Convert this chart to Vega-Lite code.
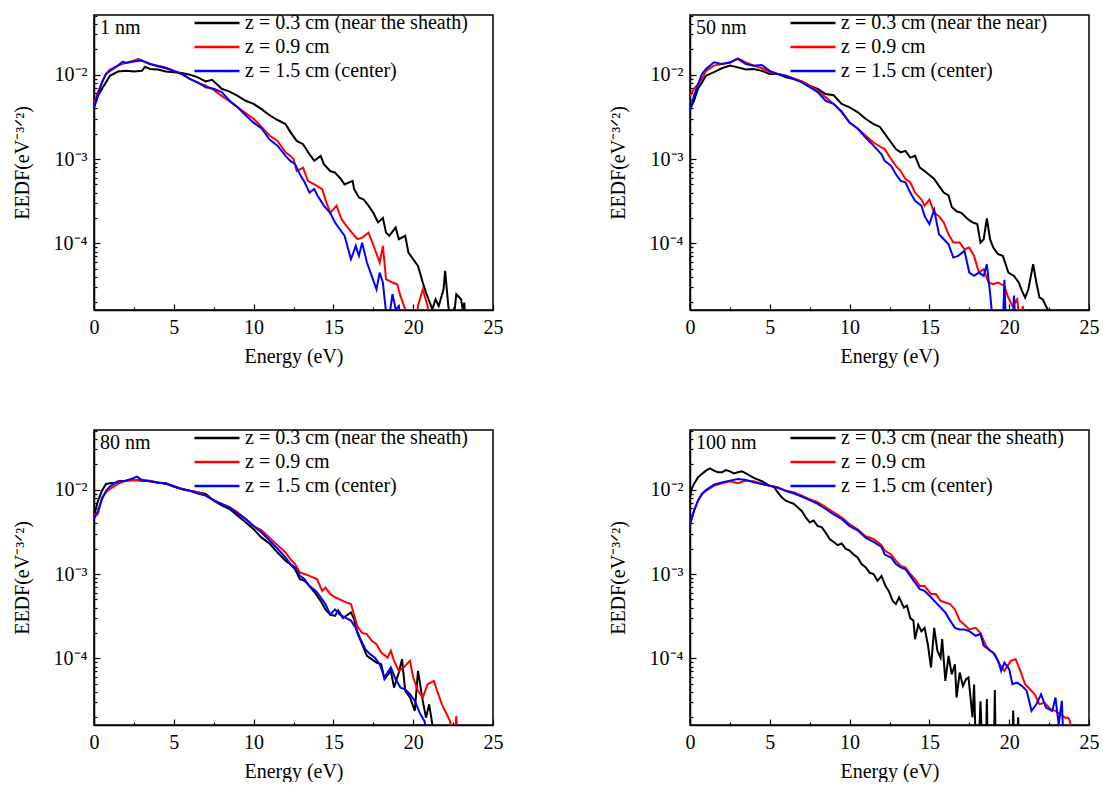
{
  "$schema": "https://vega.github.io/schema/vega-lite/v6.json",
  "background": "white",
  "padding": {"left": 11, "top": 4, "right": 5, "bottom": 0},
  "columns": 2,
  "bounds": "flush",
  "spacing": {"row": 120, "column": 197},
  "resolve": {"scale": {"color": "independent"}, "legend": {"color": "independent"}},
  "config": {
    "font": "Liberation Serif",
    "view": {"stroke": "black", "strokeWidth": 1.5},
    "axis": {"grid": false, "domainColor": "black", "domainWidth": 1.5, "tickColor": "black", "tickWidth": 1.2, "labelColor": "black", "titleColor": "black", "labelFont": "Liberation Serif", "titleFont": "Liberation Serif", "labelFontSize": 20, "titleFontSize": 20, "titleFontWeight": "normal", "labelOverlap": false},
    "axisX": {"labelFlush": false, "labelPadding": 13, "titlePadding": 6},
    "axisY": {"labelPadding": 13, "titlePadding": 21},
    "title": {"font": "Liberation Serif", "fontSize": 20, "fontWeight": "normal", "color": "black", "anchor": "start", "frame": "group", "offset": 0, "baseline": "alphabetic", "dx": 6, "dy": 36},
    "legend": {"orient": "none", "legendX": 99, "legendY": -4, "symbolType": "stroke", "symbolSize": 2025, "symbolStrokeWidth": 2.5, "labelFont": "Liberation Serif", "labelFontSize": 20, "labelColor": "black", "labelLimit": 500, "padding": 0, "rowPadding": 0, "clipHeight": 24, "labelOffset": 4}
  },
  "datasets": {
    "p1": [
      {"z":"0.3","e":0,"v":0.0041},{"z":"0.3","e":0.25,"v":0.0056},{"z":"0.3","e":0.5,"v":0.0068},{"z":"0.3","e":0.75,"v":0.0081},{"z":"0.3","e":1,"v":0.0097},{"z":"0.3","e":1.5,"v":0.0109},{"z":"0.3","e":2,"v":0.0111},{"z":"0.3","e":2.5,"v":0.0109},{"z":"0.3","e":3,"v":0.0111},{"z":"0.3","e":3.2,"v":0.0124},{"z":"0.3","e":3.5,"v":0.0117},{"z":"0.3","e":4,"v":0.0115},{"z":"0.3","e":4.5,"v":0.0109},{"z":"0.3","e":5,"v":0.0107},{"z":"0.3","e":5.5,"v":0.0105},{"z":"0.3","e":6,"v":0.0100},{"z":"0.3","e":6.5,"v":0.0093},{"z":"0.3","e":7,"v":0.0083},{"z":"0.3","e":7.4,"v":0.0087},{"z":"0.3","e":7.7,"v":0.0077},{"z":"0.3","e":8,"v":0.0068},{"z":"0.3","e":8.5,"v":0.0063},{"z":"0.3","e":9,"v":0.0056},{"z":"0.3","e":9.5,"v":0.0049},{"z":"0.3","e":10,"v":0.0045},{"z":"0.3","e":10.5,"v":0.0039},{"z":"0.3","e":11,"v":0.0033},{"z":"0.3","e":11.5,"v":0.0029},{"z":"0.3","e":12,"v":0.0026},{"z":"0.3","e":12.3,"v":0.0021},{"z":"0.3","e":12.7,"v":0.00164},{"z":"0.3","e":13.1,"v":0.0015},{"z":"0.3","e":13.5,"v":0.00114},{"z":"0.3","e":13.8,"v":0.00095},{"z":"0.3","e":14.2,"v":0.00109},{"z":"0.3","e":14.4,"v":0.00087},{"z":"0.3","e":14.8,"v":0.00072},{"z":"0.3","e":15.1,"v":0.00069},{"z":"0.3","e":15.4,"v":0.0006},{"z":"0.3","e":15.7,"v":0.0005},{"z":"0.3","e":16.2,"v":0.00055},{"z":"0.3","e":16.3,"v":0.00044},{"z":"0.3","e":16.6,"v":0.00035},{"z":"0.3","e":16.9,"v":0.00033},{"z":"0.3","e":17.2,"v":0.00028},{"z":"0.3","e":17.5,"v":0.00023},{"z":"0.3","e":17.8,"v":0.000177},{"z":"0.3","e":18.1,"v":0.0002},{"z":"0.3","e":18.3,"v":0.000134},{"z":"0.3","e":18.5,"v":0.000123},{"z":"0.3","e":18.9,"v":0.000154},{"z":"0.3","e":19.1,"v":0.000112},{"z":"0.3","e":19.5,"v":0.000123},{"z":"0.3","e":19.7,"v":0.0000778},{"z":"0.3","e":20,"v":0.0000648},{"z":"0.3","e":20.3,"v":0.000054},{"z":"0.3","e":20.6,"v":0.0000343},{"z":"0.3","e":20.8,"v":0.0000261},{"z":"0.3","e":21.2,"v":0.0000165},{"z":"0.3","e":21.4,"v":0.0000217},{"z":"0.3","e":21.6,"v":0.0000181},{"z":"0.3","e":21.9,"v":0.0000285},{"z":"0.3","e":22,"v":0.0000471},{"z":"0.3","e":22.2,"v":0.0000181},{"z":"0.3","e":22.4,"v":0.00001},{"z":"0.3","e":22.6,"v":0.0000165},{"z":"0.3","e":22.7,"v":0.0000249},{"z":"0.3","e":23,"v":0.0000217},{"z":"0.3","e":23.1,"v":0.0000165},{"z":"0.3","e":23.2,"v":0.0000198},{"z":"0.3","e":23.3,"v":0.00001},
      {"z":"0.9","e":0,"v":0.0045},{"z":"0.9","e":0.25,"v":0.0062},{"z":"0.9","e":0.5,"v":0.0081},{"z":"0.9","e":0.75,"v":0.0102},{"z":"0.9","e":1,"v":0.0115},{"z":"0.9","e":1.5,"v":0.0128},{"z":"0.9","e":2,"v":0.0138},{"z":"0.9","e":2.5,"v":0.0147},{"z":"0.9","e":2.8,"v":0.0154},{"z":"0.9","e":3,"v":0.0147},{"z":"0.9","e":3.5,"v":0.0134},{"z":"0.9","e":4,"v":0.0128},{"z":"0.9","e":4.5,"v":0.0122},{"z":"0.9","e":5,"v":0.0111},{"z":"0.9","e":5.5,"v":0.0102},{"z":"0.9","e":6,"v":0.0089},{"z":"0.9","e":6.5,"v":0.008},{"z":"0.9","e":7,"v":0.0074},{"z":"0.9","e":7.5,"v":0.0066},{"z":"0.9","e":8,"v":0.0056},{"z":"0.9","e":8.5,"v":0.0048},{"z":"0.9","e":9,"v":0.0041},{"z":"0.9","e":9.5,"v":0.0035},{"z":"0.9","e":10,"v":0.003},{"z":"0.9","e":10.5,"v":0.0024},{"z":"0.9","e":11,"v":0.0019},{"z":"0.9","e":11.5,"v":0.00164},{"z":"0.9","e":12,"v":0.0012},{"z":"0.9","e":12.3,"v":0.00109},{"z":"0.9","e":12.5,"v":0.001},{"z":"0.9","e":12.7,"v":0.00072},{"z":"0.9","e":13.1,"v":0.00079},{"z":"0.9","e":13.4,"v":0.00055},{"z":"0.9","e":13.8,"v":0.0005},{"z":"0.9","e":14.3,"v":0.00044},{"z":"0.9","e":14.5,"v":0.00033},{"z":"0.9","e":14.8,"v":0.00023},{"z":"0.9","e":15.2,"v":0.00028},{"z":"0.9","e":15.5,"v":0.000194},{"z":"0.9","e":15.9,"v":0.000154},{"z":"0.9","e":16.5,"v":0.000112},{"z":"0.9","e":16.8,"v":0.000117},{"z":"0.9","e":17.2,"v":0.000134},{"z":"0.9","e":17.6,"v":0.0000851},{"z":"0.9","e":17.9,"v":0.0000592},{"z":"0.9","e":18.1,"v":0.0000933},{"z":"0.9","e":18.3,"v":0.0000375},{"z":"0.9","e":18.7,"v":0.0000343},{"z":"0.9","e":19,"v":0.0000327},{"z":"0.9","e":19.2,"v":0.0000238},{"z":"0.9","e":19.5,"v":0.0000165},{"z":"0.9","e":19.6,"v":0.00001},{"z":"0.9","e":20.1,"v":0.00001},{"z":"0.9","e":20.3,"v":0.0000181},{"z":"0.9","e":20.6,"v":0.0000285},{"z":"0.9","e":20.9,"v":0.0000181},{"z":"0.9","e":21.1,"v":0.00001},
      {"z":"1.5","e":0,"v":0.0041},{"z":"1.5","e":0.25,"v":0.0059},{"z":"1.5","e":0.5,"v":0.0081},{"z":"1.5","e":0.75,"v":0.0102},{"z":"1.5","e":1,"v":0.0111},{"z":"1.5","e":1.5,"v":0.0128},{"z":"1.5","e":1.8,"v":0.0143},{"z":"1.5","e":2,"v":0.0138},{"z":"1.5","e":2.5,"v":0.0143},{"z":"1.5","e":3,"v":0.0147},{"z":"1.5","e":3.5,"v":0.0134},{"z":"1.5","e":4,"v":0.0126},{"z":"1.5","e":4.5,"v":0.0119},{"z":"1.5","e":5,"v":0.0111},{"z":"1.5","e":5.5,"v":0.0102},{"z":"1.5","e":6,"v":0.0089},{"z":"1.5","e":6.5,"v":0.0081},{"z":"1.5","e":7,"v":0.0071},{"z":"1.5","e":7.5,"v":0.0068},{"z":"1.5","e":8,"v":0.0062},{"z":"1.5","e":8.5,"v":0.0049},{"z":"1.5","e":9,"v":0.0041},{"z":"1.5","e":9.5,"v":0.0033},{"z":"1.5","e":10,"v":0.0027},{"z":"1.5","e":10.5,"v":0.0023},{"z":"1.5","e":11,"v":0.0017},{"z":"1.5","e":11.5,"v":0.00144},{"z":"1.5","e":12,"v":0.00109},{"z":"1.5","e":12.3,"v":0.00095},{"z":"1.5","e":12.6,"v":0.00087},{"z":"1.5","e":12.9,"v":0.00066},{"z":"1.5","e":13.2,"v":0.00053},{"z":"1.5","e":13.5,"v":0.0004},{"z":"1.5","e":13.8,"v":0.00044},{"z":"1.5","e":14,"v":0.00037},{"z":"1.5","e":14.4,"v":0.00028},{"z":"1.5","e":14.8,"v":0.00023},{"z":"1.5","e":15.1,"v":0.000177},{"z":"1.5","e":15.4,"v":0.000147},{"z":"1.5","e":15.7,"v":0.000123},{"z":"1.5","e":16.1,"v":0.0000648},{"z":"1.5","e":16.4,"v":0.0000933},{"z":"1.5","e":16.6,"v":0.000071},{"z":"1.5","e":16.8,"v":0.000102},{"z":"1.5","e":17.1,"v":0.0000592},{"z":"1.5","e":17.4,"v":0.0000411},{"z":"1.5","e":17.7,"v":0.0000285},{"z":"1.5","e":17.9,"v":0.000045},{"z":"1.5","e":18.1,"v":0.0000343},{"z":"1.5","e":18.4,"v":0.00001},{"z":"1.5","e":18.7,"v":0.0000249},{"z":"1.5","e":18.9,"v":0.0000165},{"z":"1.5","e":19.1,"v":0.0000181},{"z":"1.5","e":19.3,"v":0.00001}
    ],
    "p2": [
      {"z":"0.3","e":0,"v":0.0039},{"z":"0.3","e":0.25,"v":0.0049},{"z":"0.3","e":0.5,"v":0.0068},{"z":"0.3","e":0.75,"v":0.0081},{"z":"0.3","e":1,"v":0.0097},{"z":"0.3","e":1.5,"v":0.0107},{"z":"0.3","e":2,"v":0.0119},{"z":"0.3","e":2.5,"v":0.0128},{"z":"0.3","e":3,"v":0.0122},{"z":"0.3","e":3.5,"v":0.0115},{"z":"0.3","e":4,"v":0.0117},{"z":"0.3","e":4.5,"v":0.0111},{"z":"0.3","e":5,"v":0.0102},{"z":"0.3","e":5.5,"v":0.0102},{"z":"0.3","e":6,"v":0.0093},{"z":"0.3","e":6.5,"v":0.0089},{"z":"0.3","e":7,"v":0.0083},{"z":"0.3","e":7.5,"v":0.0074},{"z":"0.3","e":8,"v":0.0068},{"z":"0.3","e":8.5,"v":0.0059},{"z":"0.3","e":9,"v":0.0057},{"z":"0.3","e":9.5,"v":0.0045},{"z":"0.3","e":10,"v":0.0041},{"z":"0.3","e":10.5,"v":0.0036},{"z":"0.3","e":11,"v":0.003},{"z":"0.3","e":11.5,"v":0.0026},{"z":"0.3","e":11.9,"v":0.0024},{"z":"0.3","e":12.2,"v":0.002},{"z":"0.3","e":12.6,"v":0.00157},{"z":"0.3","e":12.9,"v":0.00131},{"z":"0.3","e":13.2,"v":0.0012},{"z":"0.3","e":13.5,"v":0.00125},{"z":"0.3","e":13.8,"v":0.00104},{"z":"0.3","e":14.1,"v":0.00109},{"z":"0.3","e":14.4,"v":0.00079},{"z":"0.3","e":14.7,"v":0.00072},{"z":"0.3","e":15.3,"v":0.00058},{"z":"0.3","e":15.6,"v":0.00048},{"z":"0.3","e":15.9,"v":0.0004},{"z":"0.3","e":16.2,"v":0.00037},{"z":"0.3","e":16.4,"v":0.00027},{"z":"0.3","e":16.7,"v":0.00024},{"z":"0.3","e":17,"v":0.00023},{"z":"0.3","e":17.4,"v":0.000194},{"z":"0.3","e":17.7,"v":0.000177},{"z":"0.3","e":18,"v":0.000169},{"z":"0.3","e":18.2,"v":0.000102},{"z":"0.3","e":18.4,"v":0.000112},{"z":"0.3","e":18.6,"v":0.000197},{"z":"0.3","e":18.8,"v":0.000112},{"z":"0.3","e":19,"v":0.0000891},{"z":"0.3","e":19.3,"v":0.0000743},{"z":"0.3","e":19.6,"v":0.000071},{"z":"0.3","e":19.95,"v":0.000045},{"z":"0.3","e":20.3,"v":0.0000411},{"z":"0.3","e":20.6,"v":0.0000343},{"z":"0.3","e":20.8,"v":0.0000273},{"z":"0.3","e":21,"v":0.0000227},{"z":"0.3","e":21.2,"v":0.0000285},{"z":"0.3","e":21.5,"v":0.0000565},{"z":"0.3","e":21.7,"v":0.0000343},{"z":"0.3","e":21.9,"v":0.0000227},{"z":"0.3","e":22.1,"v":0.0000217},{"z":"0.3","e":22.4,"v":0.0000165},{"z":"0.3","e":22.5,"v":0.00001},
      {"z":"0.9","e":0,"v":0.0056},{"z":"0.9","e":0.25,"v":0.0068},{"z":"0.9","e":0.5,"v":0.0077},{"z":"0.9","e":0.75,"v":0.0089},{"z":"0.9","e":1,"v":0.0111},{"z":"0.9","e":1.5,"v":0.0128},{"z":"0.9","e":2,"v":0.0134},{"z":"0.9","e":2.5,"v":0.0138},{"z":"0.9","e":3,"v":0.0156},{"z":"0.9","e":3.5,"v":0.014},{"z":"0.9","e":4,"v":0.0128},{"z":"0.9","e":4.5,"v":0.0119},{"z":"0.9","e":5,"v":0.0107},{"z":"0.9","e":5.5,"v":0.0102},{"z":"0.9","e":6,"v":0.0097},{"z":"0.9","e":6.5,"v":0.009},{"z":"0.9","e":7,"v":0.0083},{"z":"0.9","e":7.5,"v":0.0074},{"z":"0.9","e":8,"v":0.0065},{"z":"0.9","e":8.5,"v":0.0054},{"z":"0.9","e":9,"v":0.0045},{"z":"0.9","e":9.5,"v":0.0037},{"z":"0.9","e":10,"v":0.0027},{"z":"0.9","e":10.5,"v":0.0023},{"z":"0.9","e":11,"v":0.0019},{"z":"0.9","e":11.5,"v":0.00157},{"z":"0.9","e":12,"v":0.00137},{"z":"0.9","e":12.2,"v":0.00131},{"z":"0.9","e":12.6,"v":0.001},{"z":"0.9","e":12.9,"v":0.00083},{"z":"0.9","e":13.2,"v":0.00072},{"z":"0.9","e":13.5,"v":0.00058},{"z":"0.9","e":13.8,"v":0.00053},{"z":"0.9","e":14.1,"v":0.0004},{"z":"0.9","e":14.5,"v":0.00033},{"z":"0.9","e":14.7,"v":0.00028},{"z":"0.9","e":15,"v":0.00033},{"z":"0.9","e":15.3,"v":0.00023},{"z":"0.9","e":15.6,"v":0.00021},{"z":"0.9","e":15.9,"v":0.000177},{"z":"0.9","e":16.2,"v":0.000128},{"z":"0.9","e":16.5,"v":0.000102},{"z":"0.9","e":16.9,"v":0.000102},{"z":"0.9","e":17.2,"v":0.0000851},{"z":"0.9","e":17.5,"v":0.0000891},{"z":"0.9","e":17.8,"v":0.000071},{"z":"0.9","e":18.1,"v":0.000045},{"z":"0.9","e":18.4,"v":0.0000493},{"z":"0.9","e":18.7,"v":0.0000343},{"z":"0.9","e":19,"v":0.0000327},{"z":"0.9","e":19.3,"v":0.0000343},{"z":"0.9","e":19.7,"v":0.0000313},{"z":"0.9","e":19.9,"v":0.0000238},{"z":"0.9","e":20.2,"v":0.0000181},{"z":"0.9","e":20.5,"v":0.0000217},{"z":"0.9","e":20.7,"v":0.00001},{"z":"0.9","e":20.85,"v":0.000018},{"z":"0.9","e":20.95,"v":0.00001},
      {"z":"1.5","e":0,"v":0.0037},{"z":"1.5","e":0.25,"v":0.0056},{"z":"1.5","e":0.5,"v":0.0077},{"z":"1.5","e":0.75,"v":0.0102},{"z":"1.5","e":1,"v":0.0117},{"z":"1.5","e":1.5,"v":0.014},{"z":"1.5","e":2,"v":0.0134},{"z":"1.5","e":2.5,"v":0.014},{"z":"1.5","e":3,"v":0.0154},{"z":"1.5","e":3.5,"v":0.0134},{"z":"1.5","e":4,"v":0.0128},{"z":"1.5","e":4.5,"v":0.013},{"z":"1.5","e":5,"v":0.0111},{"z":"1.5","e":5.5,"v":0.0102},{"z":"1.5","e":6,"v":0.0097},{"z":"1.5","e":6.5,"v":0.0089},{"z":"1.5","e":7,"v":0.0081},{"z":"1.5","e":7.5,"v":0.0071},{"z":"1.5","e":8,"v":0.0062},{"z":"1.5","e":8.5,"v":0.0049},{"z":"1.5","e":9,"v":0.0045},{"z":"1.5","e":9.5,"v":0.0036},{"z":"1.5","e":10,"v":0.0027},{"z":"1.5","e":10.5,"v":0.0023},{"z":"1.5","e":11,"v":0.0018},{"z":"1.5","e":11.5,"v":0.00144},{"z":"1.5","e":12,"v":0.00114},{"z":"1.5","e":12.2,"v":0.00095},{"z":"1.5","e":12.6,"v":0.00083},{"z":"1.5","e":12.9,"v":0.00066},{"z":"1.5","e":13.2,"v":0.00055},{"z":"1.5","e":13.5,"v":0.00053},{"z":"1.5","e":13.8,"v":0.0004},{"z":"1.5","e":14.1,"v":0.00032},{"z":"1.5","e":14.5,"v":0.00028},{"z":"1.5","e":14.7,"v":0.00021},{"z":"1.5","e":15,"v":0.000169},{"z":"1.5","e":15.3,"v":0.00025},{"z":"1.5","e":15.6,"v":0.000128},{"z":"1.5","e":15.9,"v":0.000112},{"z":"1.5","e":16.2,"v":0.0000977},{"z":"1.5","e":16.5,"v":0.0000678},{"z":"1.5","e":16.8,"v":0.000071},{"z":"1.5","e":17.2,"v":0.0000814},{"z":"1.5","e":17.5,"v":0.000045},{"z":"1.5","e":17.8,"v":0.0000411},{"z":"1.5","e":18.1,"v":0.000045},{"z":"1.5","e":18.4,"v":0.0000411},{"z":"1.5","e":18.6,"v":0.0000565},{"z":"1.5","e":18.8,"v":0.0000261},{"z":"1.5","e":19,"v":0.00001},{"z":"1.5","e":19.6,"v":0.00001},{"z":"1.5","e":19.7,"v":0.000037},{"z":"1.5","e":19.8,"v":0.00001},{"z":"1.5","e":20.2,"v":0.00001},{"z":"1.5","e":20.3,"v":0.000024},{"z":"1.5","e":20.4,"v":0.00001}
    ],
    "p3": [
      {"z":"0.3","e":0,"v":0.0049},{"z":"0.3","e":0.25,"v":0.0074},{"z":"0.3","e":0.5,"v":0.0097},{"z":"0.3","e":0.75,"v":0.0117},{"z":"0.3","e":1,"v":0.0119},{"z":"0.3","e":1.5,"v":0.0122},{"z":"0.3","e":2,"v":0.0128},{"z":"0.3","e":2.5,"v":0.013},{"z":"0.3","e":3,"v":0.0128},{"z":"0.3","e":3.5,"v":0.0126},{"z":"0.3","e":4,"v":0.0122},{"z":"0.3","e":4.5,"v":0.0117},{"z":"0.3","e":5,"v":0.0109},{"z":"0.3","e":5.5,"v":0.0102},{"z":"0.3","e":6,"v":0.0097},{"z":"0.3","e":6.5,"v":0.0093},{"z":"0.3","e":7,"v":0.0089},{"z":"0.3","e":7.5,"v":0.0074},{"z":"0.3","e":8,"v":0.0065},{"z":"0.3","e":8.5,"v":0.0059},{"z":"0.3","e":9,"v":0.0049},{"z":"0.3","e":9.5,"v":0.0041},{"z":"0.3","e":10,"v":0.0034},{"z":"0.3","e":10.5,"v":0.0027},{"z":"0.3","e":11,"v":0.0023},{"z":"0.3","e":11.5,"v":0.0018},{"z":"0.3","e":12,"v":0.00144},{"z":"0.3","e":12.3,"v":0.00131},{"z":"0.3","e":12.6,"v":0.00114},{"z":"0.3","e":12.9,"v":0.00087},{"z":"0.3","e":13.2,"v":0.00083},{"z":"0.3","e":13.5,"v":0.00072},{"z":"0.3","e":13.9,"v":0.00058},{"z":"0.3","e":14.2,"v":0.00048},{"z":"0.3","e":14.5,"v":0.00038},{"z":"0.3","e":14.8,"v":0.00033},{"z":"0.3","e":15.1,"v":0.00032},{"z":"0.3","e":15.3,"v":0.00037},{"z":"0.3","e":15.6,"v":0.0003},{"z":"0.3","e":16.1,"v":0.00035},{"z":"0.3","e":16.3,"v":0.00029},{"z":"0.3","e":16.5,"v":0.0002},{"z":"0.3","e":16.8,"v":0.000147},{"z":"0.3","e":17.1,"v":0.000107},{"z":"0.3","e":17.4,"v":0.0000977},{"z":"0.3","e":17.7,"v":0.0000891},{"z":"0.3","e":18,"v":0.0000851},{"z":"0.3","e":18.2,"v":0.0000565},{"z":"0.3","e":18.6,"v":0.000071},{"z":"0.3","e":18.8,"v":0.000045},{"z":"0.3","e":19.1,"v":0.0000678},{"z":"0.3","e":19.3,"v":0.0000977},{"z":"0.3","e":19.5,"v":0.0000411},{"z":"0.3","e":19.8,"v":0.0000343},{"z":"0.3","e":20.1,"v":0.0000238},{"z":"0.3","e":20.3,"v":0.000071},{"z":"0.3","e":20.6,"v":0.0000313},{"z":"0.3","e":20.8,"v":0.0000198},{"z":"0.3","e":21,"v":0.0000285},{"z":"0.3","e":21.2,"v":0.0000165},{"z":"0.3","e":21.3,"v":0.00001},
      {"z":"0.9","e":0,"v":0.0051},{"z":"0.9","e":0.25,"v":0.0052},{"z":"0.9","e":0.5,"v":0.0081},{"z":"0.9","e":0.75,"v":0.0093},{"z":"0.9","e":1,"v":0.0102},{"z":"0.9","e":1.5,"v":0.0117},{"z":"0.9","e":2,"v":0.0128},{"z":"0.9","e":2.5,"v":0.013},{"z":"0.9","e":3,"v":0.013},{"z":"0.9","e":3.5,"v":0.0128},{"z":"0.9","e":4,"v":0.0122},{"z":"0.9","e":4.5,"v":0.0119},{"z":"0.9","e":5,"v":0.0111},{"z":"0.9","e":5.5,"v":0.0102},{"z":"0.9","e":6,"v":0.0097},{"z":"0.9","e":6.5,"v":0.0093},{"z":"0.9","e":7,"v":0.0085},{"z":"0.9","e":7.5,"v":0.0075},{"z":"0.9","e":8,"v":0.0068},{"z":"0.9","e":8.5,"v":0.0062},{"z":"0.9","e":9,"v":0.0054},{"z":"0.9","e":9.5,"v":0.0045},{"z":"0.9","e":10,"v":0.0037},{"z":"0.9","e":10.5,"v":0.0033},{"z":"0.9","e":11,"v":0.0027},{"z":"0.9","e":11.5,"v":0.0022},{"z":"0.9","e":12,"v":0.0018},{"z":"0.9","e":12.3,"v":0.0015},{"z":"0.9","e":12.6,"v":0.00131},{"z":"0.9","e":12.9,"v":0.00104},{"z":"0.9","e":13.2,"v":0.001},{"z":"0.9","e":13.5,"v":0.00095},{"z":"0.9","e":13.97,"v":0.00087},{"z":"0.9","e":14.3,"v":0.00063},{"z":"0.9","e":14.5,"v":0.00069},{"z":"0.9","e":14.8,"v":0.00058},{"z":"0.9","e":15.1,"v":0.00053},{"z":"0.9","e":15.4,"v":0.0005},{"z":"0.9","e":15.8,"v":0.00046},{"z":"0.9","e":16.1,"v":0.00044},{"z":"0.9","e":16.2,"v":0.00038},{"z":"0.9","e":16.5,"v":0.00024},{"z":"0.9","e":16.8,"v":0.0002},{"z":"0.9","e":17.1,"v":0.000194},{"z":"0.9","e":17.4,"v":0.000161},{"z":"0.9","e":17.7,"v":0.000147},{"z":"0.9","e":18,"v":0.000117},{"z":"0.9","e":18.4,"v":0.000102},{"z":"0.9","e":18.6,"v":0.000123},{"z":"0.9","e":18.8,"v":0.0000933},{"z":"0.9","e":19.1,"v":0.000071},{"z":"0.9","e":19.4,"v":0.0000778},{"z":"0.9","e":19.8,"v":0.0000933},{"z":"0.9","e":20,"v":0.0000592},{"z":"0.9","e":20.3,"v":0.0000411},{"z":"0.9","e":20.6,"v":0.0000343},{"z":"0.9","e":20.9,"v":0.0000493},{"z":"0.9","e":21.3,"v":0.000054},{"z":"0.9","e":21.5,"v":0.0000411},{"z":"0.9","e":21.8,"v":0.0000285},{"z":"0.9","e":22.1,"v":0.0000217},{"z":"0.9","e":22.3,"v":0.0000181},{"z":"0.9","e":22.6,"v":0.00001},{"z":"0.9","e":22.7,"v":0.0000207},{"z":"0.9","e":22.8,"v":0.00001},
      {"z":"1.5","e":0,"v":0.0045},{"z":"1.5","e":0.25,"v":0.0056},{"z":"1.5","e":0.5,"v":0.0077},{"z":"1.5","e":0.75,"v":0.0097},{"z":"1.5","e":1,"v":0.0109},{"z":"1.5","e":1.5,"v":0.0126},{"z":"1.5","e":2,"v":0.0128},{"z":"1.5","e":2.5,"v":0.0138},{"z":"1.5","e":2.7,"v":0.0143},{"z":"1.5","e":3,"v":0.013},{"z":"1.5","e":3.5,"v":0.0126},{"z":"1.5","e":4,"v":0.0121},{"z":"1.5","e":4.5,"v":0.0119},{"z":"1.5","e":5,"v":0.0109},{"z":"1.5","e":5.5,"v":0.0102},{"z":"1.5","e":6,"v":0.0097},{"z":"1.5","e":6.5,"v":0.009},{"z":"1.5","e":7,"v":0.0085},{"z":"1.5","e":7.5,"v":0.0075},{"z":"1.5","e":8,"v":0.0068},{"z":"1.5","e":8.5,"v":0.0061},{"z":"1.5","e":9,"v":0.0052},{"z":"1.5","e":9.5,"v":0.0045},{"z":"1.5","e":10,"v":0.0037},{"z":"1.5","e":10.5,"v":0.0031},{"z":"1.5","e":11,"v":0.0025},{"z":"1.5","e":11.5,"v":0.002},{"z":"1.5","e":12,"v":0.00157},{"z":"1.5","e":12.3,"v":0.00131},{"z":"1.5","e":12.6,"v":0.0012},{"z":"1.5","e":12.9,"v":0.00095},{"z":"1.5","e":13.2,"v":0.00087},{"z":"1.5","e":13.5,"v":0.00072},{"z":"1.5","e":13.9,"v":0.00063},{"z":"1.5","e":14.2,"v":0.00053},{"z":"1.5","e":14.5,"v":0.00044},{"z":"1.5","e":14.8,"v":0.00033},{"z":"1.5","e":15.1,"v":0.00038},{"z":"1.5","e":15.4,"v":0.00033},{"z":"1.5","e":15.8,"v":0.0003},{"z":"1.5","e":16.1,"v":0.00028},{"z":"1.5","e":16.4,"v":0.00023},{"z":"1.5","e":16.7,"v":0.000169},{"z":"1.5","e":17,"v":0.000128},{"z":"1.5","e":17.3,"v":0.000112},{"z":"1.5","e":17.6,"v":0.000102},{"z":"1.5","e":17.9,"v":0.0000851},{"z":"1.5","e":18.2,"v":0.0000592},{"z":"1.5","e":18.6,"v":0.0000778},{"z":"1.5","e":18.9,"v":0.0000565},{"z":"1.5","e":19.2,"v":0.000045},{"z":"1.5","e":19.5,"v":0.000043},{"z":"1.5","e":19.8,"v":0.0000375},{"z":"1.5","e":20.1,"v":0.0000313},{"z":"1.5","e":20.4,"v":0.0000227},{"z":"1.5","e":20.7,"v":0.0000181},{"z":"1.5","e":21,"v":0.00001}
    ],
    "p4": [
      {"z":"0.3","e":0,"v":0.0081},{"z":"0.3","e":0.1,"v":0.0102},{"z":"0.3","e":0.25,"v":0.0117},{"z":"0.3","e":0.5,"v":0.014},{"z":"0.3","e":0.75,"v":0.0154},{"z":"0.3","e":1,"v":0.0168},{"z":"0.3","e":1.25,"v":0.0179},{"z":"0.3","e":1.5,"v":0.0168},{"z":"0.3","e":1.75,"v":0.0161},{"z":"0.3","e":2,"v":0.0161},{"z":"0.3","e":2.25,"v":0.0171},{"z":"0.3","e":2.5,"v":0.0165},{"z":"0.3","e":2.75,"v":0.0156},{"z":"0.3","e":3,"v":0.0161},{"z":"0.3","e":3.25,"v":0.0165},{"z":"0.3","e":3.5,"v":0.0156},{"z":"0.3","e":4,"v":0.0138},{"z":"0.3","e":4.5,"v":0.0126},{"z":"0.3","e":5,"v":0.0111},{"z":"0.3","e":5.25,"v":0.0109},{"z":"0.3","e":5.5,"v":0.0093},{"z":"0.3","e":5.75,"v":0.0081},{"z":"0.3","e":6,"v":0.0074},{"z":"0.3","e":6.25,"v":0.0071},{"z":"0.3","e":6.5,"v":0.0068},{"z":"0.3","e":7,"v":0.0056},{"z":"0.3","e":7.25,"v":0.0047},{"z":"0.3","e":7.5,"v":0.0041},{"z":"0.3","e":7.75,"v":0.0043},{"z":"0.3","e":8,"v":0.0037},{"z":"0.3","e":8.25,"v":0.0036},{"z":"0.3","e":8.5,"v":0.0031},{"z":"0.3","e":8.75,"v":0.0026},{"z":"0.3","e":9,"v":0.0024},{"z":"0.3","e":9.25,"v":0.0022},{"z":"0.3","e":9.5,"v":0.0023},{"z":"0.3","e":9.75,"v":0.002},{"z":"0.3","e":10,"v":0.0019},{"z":"0.3","e":10.25,"v":0.0017},{"z":"0.3","e":10.5,"v":0.00157},{"z":"0.3","e":10.75,"v":0.00131},{"z":"0.3","e":11,"v":0.0012},{"z":"0.3","e":11.25,"v":0.00104},{"z":"0.3","e":11.5,"v":0.001},{"z":"0.3","e":11.75,"v":0.00083},{"z":"0.3","e":12,"v":0.00095},{"z":"0.3","e":12.25,"v":0.00072},{"z":"0.3","e":12.45,"v":0.00063},{"z":"0.3","e":12.7,"v":0.00048},{"z":"0.3","e":12.9,"v":0.00044},{"z":"0.3","e":13.1,"v":0.00053},{"z":"0.3","e":13.4,"v":0.0004},{"z":"0.3","e":13.6,"v":0.00042},{"z":"0.3","e":13.8,"v":0.0003},{"z":"0.3","e":14,"v":0.00028},{"z":"0.3","e":14.1,"v":0.000169},{"z":"0.3","e":14.3,"v":0.00025},{"z":"0.3","e":14.5,"v":0.00021},{"z":"0.3","e":14.7,"v":0.00023},{"z":"0.3","e":14.9,"v":0.000147},{"z":"0.3","e":15.1,"v":0.0000778},{"z":"0.3","e":15.3,"v":0.00023},{"z":"0.3","e":15.5,"v":0.000123},{"z":"0.3","e":15.7,"v":0.000102},{"z":"0.3","e":15.8,"v":0.000169},{"z":"0.3","e":16,"v":0.000054},{"z":"0.3","e":16.2,"v":0.000107},{"z":"0.3","e":16.4,"v":0.0000648},{"z":"0.3","e":16.6,"v":0.0000851},{"z":"0.3","e":16.7,"v":0.0000343},{"z":"0.3","e":16.9,"v":0.0000678},{"z":"0.3","e":17.1,"v":0.0000471},{"z":"0.3","e":17.3,"v":0.0000565},{"z":"0.3","e":17.45,"v":0.0000592},{"z":"0.3","e":17.7,"v":0.00002},{"z":"0.3","e":17.8,"v":0.000049},{"z":"0.3","e":17.9,"v":0.00001},{"z":"0.3","e":18.1,"v":0.00001},{"z":"0.3","e":18.2,"v":0.000031},{"z":"0.3","e":18.3,"v":0.00001},{"z":"0.3","e":18.55,"v":0.00001},{"z":"0.3","e":18.6,"v":0.000033},{"z":"0.3","e":18.65,"v":0.00001},{"z":"0.3","e":19.05,"v":0.00001},{"z":"0.3","e":19.1,"v":0.000042},{"z":"0.3","e":19.15,"v":0.00001},{"z":"0.3","e":20.2,"v":0.00001},{"z":"0.3","e":20.25,"v":0.000024},{"z":"0.3","e":20.3,"v":0.00001},{"z":"0.3","e":20.5,"v":0.00001},{"z":"0.3","e":20.56,"v":0.00002},{"z":"0.3","e":20.62,"v":0.00001},
      {"z":"0.9","e":0,"v":0.0039},{"z":"0.9","e":0.25,"v":0.0056},{"z":"0.9","e":0.5,"v":0.0074},{"z":"0.9","e":0.75,"v":0.0089},{"z":"0.9","e":1,"v":0.0097},{"z":"0.9","e":1.5,"v":0.0111},{"z":"0.9","e":2,"v":0.0119},{"z":"0.9","e":2.5,"v":0.0126},{"z":"0.9","e":3,"v":0.0119},{"z":"0.9","e":3.5,"v":0.0128},{"z":"0.9","e":4,"v":0.0126},{"z":"0.9","e":4.5,"v":0.0117},{"z":"0.9","e":5,"v":0.0111},{"z":"0.9","e":5.5,"v":0.0107},{"z":"0.9","e":6,"v":0.0097},{"z":"0.9","e":6.5,"v":0.0093},{"z":"0.9","e":7,"v":0.0085},{"z":"0.9","e":7.5,"v":0.0077},{"z":"0.9","e":8,"v":0.0071},{"z":"0.9","e":8.5,"v":0.0062},{"z":"0.9","e":9,"v":0.0054},{"z":"0.9","e":9.5,"v":0.0047},{"z":"0.9","e":10,"v":0.0039},{"z":"0.9","e":10.5,"v":0.0034},{"z":"0.9","e":11,"v":0.0028},{"z":"0.9","e":11.5,"v":0.0026},{"z":"0.9","e":12,"v":0.0022},{"z":"0.9","e":12.2,"v":0.0019},{"z":"0.9","e":12.6,"v":0.0017},{"z":"0.9","e":12.9,"v":0.00144},{"z":"0.9","e":13.2,"v":0.00125},{"z":"0.9","e":13.5,"v":0.0012},{"z":"0.9","e":13.8,"v":0.001},{"z":"0.9","e":14.1,"v":0.00087},{"z":"0.9","e":14.4,"v":0.00072},{"z":"0.9","e":14.7,"v":0.00072},{"z":"0.9","e":15.1,"v":0.00058},{"z":"0.9","e":15.4,"v":0.00058},{"z":"0.9","e":15.7,"v":0.00048},{"z":"0.9","e":16,"v":0.00046},{"z":"0.9","e":16.3,"v":0.00044},{"z":"0.9","e":16.6,"v":0.00038},{"z":"0.9","e":16.9,"v":0.00028},{"z":"0.9","e":17.2,"v":0.00025},{"z":"0.9","e":17.5,"v":0.00022},{"z":"0.9","e":17.9,"v":0.00023},{"z":"0.9","e":18.2,"v":0.0002},{"z":"0.9","e":18.5,"v":0.000147},{"z":"0.9","e":18.8,"v":0.000123},{"z":"0.9","e":19.1,"v":0.000112},{"z":"0.9","e":19.4,"v":0.0000851},{"z":"0.9","e":19.7,"v":0.000071},{"z":"0.9","e":20.1,"v":0.0000933},{"z":"0.9","e":20.4,"v":0.0000977},{"z":"0.9","e":20.7,"v":0.000071},{"z":"0.9","e":21,"v":0.0000493},{"z":"0.9","e":21.3,"v":0.000043},{"z":"0.9","e":21.6,"v":0.0000375},{"z":"0.9","e":21.9,"v":0.0000285},{"z":"0.9","e":22.2,"v":0.0000299},{"z":"0.9","e":22.6,"v":0.0000249},{"z":"0.9","e":22.9,"v":0.0000238},{"z":"0.9","e":23.2,"v":0.0000217},{"z":"0.9","e":23.5,"v":0.0000198},{"z":"0.9","e":23.7,"v":0.0000198},{"z":"0.9","e":23.8,"v":0.0000181},{"z":"0.9","e":24,"v":0.00001},
      {"z":"1.5","e":0,"v":0.0039},{"z":"1.5","e":0.25,"v":0.0056},{"z":"1.5","e":0.5,"v":0.0074},{"z":"1.5","e":0.75,"v":0.0089},{"z":"1.5","e":1,"v":0.0099},{"z":"1.5","e":1.5,"v":0.0115},{"z":"1.5","e":2,"v":0.0122},{"z":"1.5","e":2.5,"v":0.0128},{"z":"1.5","e":3,"v":0.0134},{"z":"1.5","e":3.5,"v":0.013},{"z":"1.5","e":4,"v":0.0122},{"z":"1.5","e":4.5,"v":0.0117},{"z":"1.5","e":5,"v":0.0111},{"z":"1.5","e":5.5,"v":0.0105},{"z":"1.5","e":6,"v":0.0097},{"z":"1.5","e":6.5,"v":0.009},{"z":"1.5","e":7,"v":0.0083},{"z":"1.5","e":7.5,"v":0.0075},{"z":"1.5","e":8,"v":0.0068},{"z":"1.5","e":8.5,"v":0.0059},{"z":"1.5","e":9,"v":0.0051},{"z":"1.5","e":9.5,"v":0.0045},{"z":"1.5","e":10,"v":0.0037},{"z":"1.5","e":10.5,"v":0.0033},{"z":"1.5","e":11,"v":0.0027},{"z":"1.5","e":11.5,"v":0.0024},{"z":"1.5","e":12,"v":0.0021},{"z":"1.5","e":12.2,"v":0.0017},{"z":"1.5","e":12.6,"v":0.00157},{"z":"1.5","e":12.9,"v":0.00131},{"z":"1.5","e":13.2,"v":0.0012},{"z":"1.5","e":13.5,"v":0.00114},{"z":"1.5","e":13.8,"v":0.00095},{"z":"1.5","e":14.1,"v":0.00079},{"z":"1.5","e":14.4,"v":0.00066},{"z":"1.5","e":14.7,"v":0.00063},{"z":"1.5","e":15.1,"v":0.00053},{"z":"1.5","e":15.4,"v":0.00046},{"z":"1.5","e":15.7,"v":0.0004},{"z":"1.5","e":16,"v":0.00035},{"z":"1.5","e":16.3,"v":0.00028},{"z":"1.5","e":16.6,"v":0.00023},{"z":"1.5","e":16.9,"v":0.00022},{"z":"1.5","e":17.2,"v":0.00022},{"z":"1.5","e":17.5,"v":0.00021},{"z":"1.5","e":17.9,"v":0.000185},{"z":"1.5","e":18.2,"v":0.000194},{"z":"1.5","e":18.4,"v":0.000141},{"z":"1.5","e":18.7,"v":0.000128},{"z":"1.5","e":19,"v":0.000117},{"z":"1.5","e":19.3,"v":0.0000933},{"z":"1.5","e":19.5,"v":0.000071},{"z":"1.5","e":19.7,"v":0.0000891},{"z":"1.5","e":20,"v":0.0000743},{"z":"1.5","e":20.2,"v":0.0000493},{"z":"1.5","e":20.5,"v":0.0000516},{"z":"1.5","e":20.8,"v":0.0000471},{"z":"1.5","e":21.1,"v":0.0000411},{"z":"1.5","e":21.4,"v":0.0000238},{"z":"1.5","e":21.7,"v":0.0000285},{"z":"1.5","e":22,"v":0.0000375},{"z":"1.5","e":22.3,"v":0.0000261},{"z":"1.5","e":22.7,"v":0.0000238},{"z":"1.5","e":22.9,"v":0.0000343},{"z":"1.5","e":23.1,"v":0.0000165},{"z":"1.5","e":23.3,"v":0.0000313},{"z":"1.5","e":23.4,"v":0.00001}
    ]
  },
  "concat": [
    {
      "width": 399, "height": 295,
      "title": "1 nm",
      "data": {"name": "p1"},
      "mark": {"type": "line", "strokeWidth": 2, "clip": true},
      "encoding": {
        "x": {"field": "e", "type": "quantitative", "scale": {"domain": [0, 25], "nice": false}, "axis": {"title": "Energy (eV)", "values": [0,2.5,5,7.5,10,12.5,15,17.5,20,22.5,25], "labelExpr": "datum.value % 5 == 0 ? datum.label : ''", "tickSize": {"condition": {"test": "datum.value % 5 == 0", "value": -6}, "value": -3}}},
        "y": {"field": "v", "type": "quantitative", "scale": {"type": "log", "domain": [0.0000162, 0.051], "nice": false}, "axis": {"title": "EEDF(eV⁻³ᐟ²)", "values": [0.00002,0.00003,0.00004,0.00005,0.00006,0.00007,0.00008,0.00009,0.0001,0.0002,0.0003,0.0004,0.0005,0.0006,0.0007,0.0008,0.0009,0.001,0.002,0.003,0.004,0.005,0.006,0.007,0.008,0.009,0.01,0.02,0.03,0.04,0.05], "labelExpr": "abs(log(datum.value)/LN10 - round(log(datum.value)/LN10)) < 0.01 ? ('10' + (round(log(datum.value)/LN10) == -2 ? '⁻²' : round(log(datum.value)/LN10) == -3 ? '⁻³' : '⁻⁴')) : ''", "tickSize": {"condition": {"test": "abs(log(datum.value)/LN10 - round(log(datum.value)/LN10)) < 0.01", "value": -6}, "value": -3}}},
        "color": {"field": "z", "type": "nominal", "scale": {"domain": ["0.3", "0.9", "1.5"], "range": ["#000000", "#ff0000", "#0000ff"]}, "legend": {"title": null, "labelExpr": "datum.label == '0.3' ? 'z = 0.3 cm (near the sheath)' : datum.label == '0.9' ? 'z = 0.9 cm' : 'z = 1.5 cm (center)'"}}
      }
    },
    {
      "width": 399, "height": 295,
      "title": "50 nm",
      "data": {"name": "p2"},
      "mark": {"type": "line", "strokeWidth": 2, "clip": true},
      "encoding": {
        "x": {"field": "e", "type": "quantitative", "scale": {"domain": [0, 25], "nice": false}, "axis": {"title": "Energy (eV)", "values": [0,2.5,5,7.5,10,12.5,15,17.5,20,22.5,25], "labelExpr": "datum.value % 5 == 0 ? datum.label : ''", "tickSize": {"condition": {"test": "datum.value % 5 == 0", "value": -6}, "value": -3}}},
        "y": {"field": "v", "type": "quantitative", "scale": {"type": "log", "domain": [0.0000162, 0.051], "nice": false}, "axis": {"title": "EEDF(eV⁻³ᐟ²)", "values": [0.00002,0.00003,0.00004,0.00005,0.00006,0.00007,0.00008,0.00009,0.0001,0.0002,0.0003,0.0004,0.0005,0.0006,0.0007,0.0008,0.0009,0.001,0.002,0.003,0.004,0.005,0.006,0.007,0.008,0.009,0.01,0.02,0.03,0.04,0.05], "labelExpr": "abs(log(datum.value)/LN10 - round(log(datum.value)/LN10)) < 0.01 ? ('10' + (round(log(datum.value)/LN10) == -2 ? '⁻²' : round(log(datum.value)/LN10) == -3 ? '⁻³' : '⁻⁴')) : ''", "tickSize": {"condition": {"test": "abs(log(datum.value)/LN10 - round(log(datum.value)/LN10)) < 0.01", "value": -6}, "value": -3}}},
        "color": {"field": "z", "type": "nominal", "scale": {"domain": ["0.3", "0.9", "1.5"], "range": ["#000000", "#ff0000", "#0000ff"]}, "legend": {"title": null, "labelExpr": "datum.label == '0.3' ? 'z = 0.3 cm (near the near)' : datum.label == '0.9' ? 'z = 0.9 cm' : 'z = 1.5 cm (center)'"}}
      }
    },
    {
      "width": 399, "height": 295,
      "title": "80 nm",
      "data": {"name": "p3"},
      "mark": {"type": "line", "strokeWidth": 2, "clip": true},
      "encoding": {
        "x": {"field": "e", "type": "quantitative", "scale": {"domain": [0, 25], "nice": false}, "axis": {"title": "Energy (eV)", "values": [0,2.5,5,7.5,10,12.5,15,17.5,20,22.5,25], "labelExpr": "datum.value % 5 == 0 ? datum.label : ''", "tickSize": {"condition": {"test": "datum.value % 5 == 0", "value": -6}, "value": -3}}},
        "y": {"field": "v", "type": "quantitative", "scale": {"type": "log", "domain": [0.0000162, 0.051], "nice": false}, "axis": {"title": "EEDF(eV⁻³ᐟ²)", "values": [0.00002,0.00003,0.00004,0.00005,0.00006,0.00007,0.00008,0.00009,0.0001,0.0002,0.0003,0.0004,0.0005,0.0006,0.0007,0.0008,0.0009,0.001,0.002,0.003,0.004,0.005,0.006,0.007,0.008,0.009,0.01,0.02,0.03,0.04,0.05], "labelExpr": "abs(log(datum.value)/LN10 - round(log(datum.value)/LN10)) < 0.01 ? ('10' + (round(log(datum.value)/LN10) == -2 ? '⁻²' : round(log(datum.value)/LN10) == -3 ? '⁻³' : '⁻⁴')) : ''", "tickSize": {"condition": {"test": "abs(log(datum.value)/LN10 - round(log(datum.value)/LN10)) < 0.01", "value": -6}, "value": -3}}},
        "color": {"field": "z", "type": "nominal", "scale": {"domain": ["0.3", "0.9", "1.5"], "range": ["#000000", "#ff0000", "#0000ff"]}, "legend": {"title": null, "labelExpr": "datum.label == '0.3' ? 'z = 0.3 cm (near the sheath)' : datum.label == '0.9' ? 'z = 0.9 cm' : 'z = 1.5 cm (center)'"}}
      }
    },
    {
      "width": 399, "height": 295,
      "title": "100 nm",
      "data": {"name": "p4"},
      "mark": {"type": "line", "strokeWidth": 2, "clip": true},
      "encoding": {
        "x": {"field": "e", "type": "quantitative", "scale": {"domain": [0, 25], "nice": false}, "axis": {"title": "Energy (eV)", "values": [0,2.5,5,7.5,10,12.5,15,17.5,20,22.5,25], "labelExpr": "datum.value % 5 == 0 ? datum.label : ''", "tickSize": {"condition": {"test": "datum.value % 5 == 0", "value": -6}, "value": -3}}},
        "y": {"field": "v", "type": "quantitative", "scale": {"type": "log", "domain": [0.0000162, 0.051], "nice": false}, "axis": {"title": "EEDF(eV⁻³ᐟ²)", "values": [0.00002,0.00003,0.00004,0.00005,0.00006,0.00007,0.00008,0.00009,0.0001,0.0002,0.0003,0.0004,0.0005,0.0006,0.0007,0.0008,0.0009,0.001,0.002,0.003,0.004,0.005,0.006,0.007,0.008,0.009,0.01,0.02,0.03,0.04,0.05], "labelExpr": "abs(log(datum.value)/LN10 - round(log(datum.value)/LN10)) < 0.01 ? ('10' + (round(log(datum.value)/LN10) == -2 ? '⁻²' : round(log(datum.value)/LN10) == -3 ? '⁻³' : '⁻⁴')) : ''", "tickSize": {"condition": {"test": "abs(log(datum.value)/LN10 - round(log(datum.value)/LN10)) < 0.01", "value": -6}, "value": -3}}},
        "color": {"field": "z", "type": "nominal", "scale": {"domain": ["0.3", "0.9", "1.5"], "range": ["#000000", "#ff0000", "#0000ff"]}, "legend": {"title": null, "labelExpr": "datum.label == '0.3' ? 'z = 0.3 cm (near the sheath)' : datum.label == '0.9' ? 'z = 0.9 cm' : 'z = 1.5 cm (center)'"}}
      }
    }
  ]
}
